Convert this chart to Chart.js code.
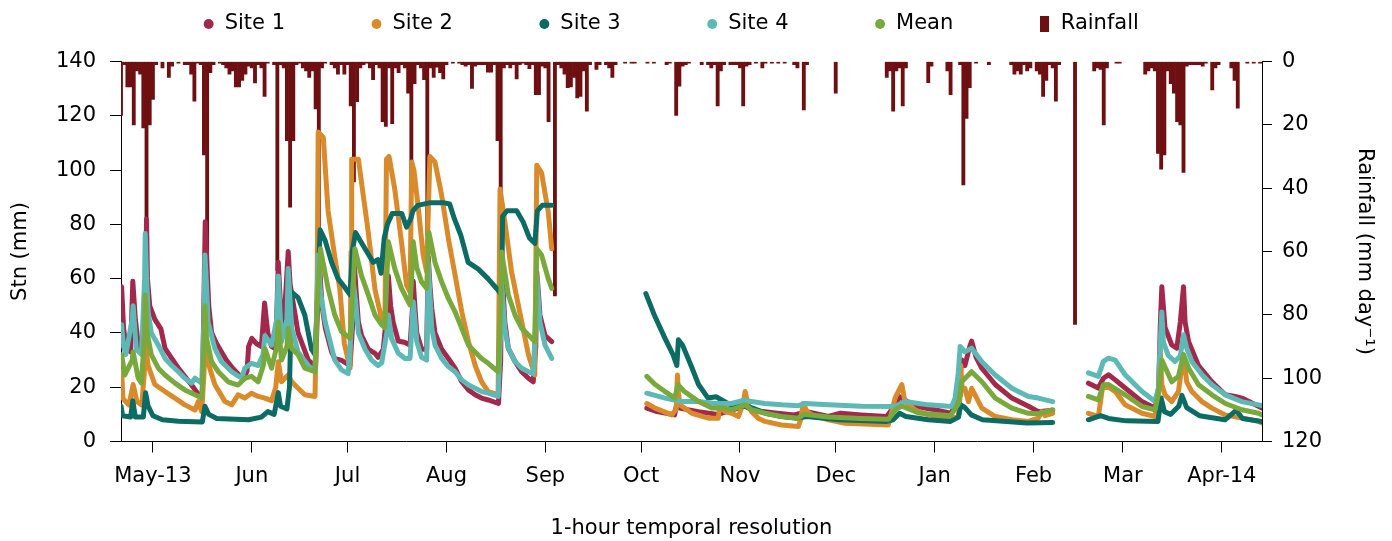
<!DOCTYPE html>
<html>
<head>
<meta charset="utf-8">
<script src="https://cdn.jsdelivr.net/npm/chart.js@4.4.1/dist/chart.umd.min.js"></script>
<style>
  html, body { margin: 0; padding: 0; background: #fff; }
  #wrap { width: 1392px; height: 541px; }
</style>
</head>
<body>
<div id="wrap"><canvas id="stnChart"></canvas></div>
<script>
// x values are days counted from 1 May 2013
const monthTicks = [0, 31, 61, 92, 123, 153, 184, 214, 245, 276, 304, 335];
const monthLabels = ['May-13', 'Jun', 'Jul', 'Aug', 'Sep', 'Oct', 'Nov', 'Dec', 'Jan', 'Feb', 'Mar', 'Apr-14'];

// [day, Stn mm]; a null value marks a gap in the record
const site1 = [
  [-10, 50], [-9.8, 57], [-9.2, 42], [-8.5, 35], [-7, 33], [-6.3, 59], [-5.5, 45], [-4.5, 35], [-3.5, 33],
  [-2.5, 45], [-2.2, 65], [-2, 82], [-1.7, 60], [-1, 50], [0.6, 45], [2.5, 41.5], [3.8, 34.3], [5.9, 30.6],
  [8, 27], [10, 24], [12, 21], [14, 17.8], [15.5, 17], [16.1, 60], [16.4, 81], [16.8, 69], [17.5, 50],
  [18.4, 40], [20, 36], [21.5, 33], [23, 30], [25, 27], [27, 24.5], [28.5, 23], [29.5, 26], [30, 35],
  [31, 38], [32.5, 36], [34, 35], [35, 51], [36, 40], [37.2, 35], [38.5, 34], [39.3, 66], [40, 50],
  [41, 42], [42.4, 70], [43, 58], [45.5, 40], [48.7, 30], [51, 27.5], [51.6, 50], [52, 69], [53, 50],
  [54, 42], [56, 33], [57, 30.5], [59, 30], [61.8, 28], [62.7, 45], [63.1, 66], [63.7, 55], [64.4, 44],
  [65.4, 39], [67.5, 34], [69.6, 32.5], [70.6, 31], [72.2, 34], [73.5, 50], [73.8, 61], [74.5, 50],
  [75.3, 44], [76.9, 37], [79, 36.5], [80.6, 35.5], [81.4, 50], [81.6, 59], [82.2, 48], [82.7, 40],
  [84.2, 34], [85.8, 34], [86.3, 68], [86.8, 58], [87.4, 49], [88.4, 40], [90.5, 34], [92.6, 30.6],
  [94.7, 27], [96.8, 22], [98.9, 19], [101, 17.2], [103, 16], [105.1, 15.3], [108.3, 14], [109, 30],
  [109.3, 66], [109.8, 55], [110.3, 44], [111.4, 34.3], [113.5, 29.4], [115.6, 25.7], [117.7, 23.3],
  [119.2, 22], [120, 35], [120.3, 62.5], [120.8, 55], [121.3, 46.6], [122.9, 39], [125, 36.8], [125.5, null],
  [154.8, 12.3], [158, 11], [163.5, 9.8], [164.2, 14], [165, 12.3], [171, 11], [177, 10], [185.6, 13],
  [188, 11.5], [195, 10.5], [201, 9.8], [205, 11], [211.7, 9.2], [215.5, 10.4], [222, 9.8], [230, 9.2],
  [232.6, 13.5], [234, 16.5], [236, 15], [239, 13], [245, 11.7], [250, 10.4], [252, 14], [253.5, 30],
  [254.5, 28], [256, 35], [256.6, 37], [258, 31], [259.8, 27], [264, 21], [269.2, 16], [274.4, 13],
  [277.5, 11], [282, 11.5], [283, null],
  [293.2, 21.5], [296.3, 19.7], [297.9, 23.3], [299.5, 24.6], [301.6, 22.7], [304.7, 19.7], [310, 14.7],
  [314.1, 12.3], [315.2, 19.7], [315.7, 42], [316.2, 57], [317.2, 42], [319.3, 35.6], [320.9, 34.4],
  [322, 44], [323, 57], [323.5, 44], [324.6, 36.8], [327.7, 28], [331.9, 22], [336.1, 17.2],
  [339.2, 16.6], [341.3, 16], [346.5, 13], [347.6, 12.3]
];

const site2 = [
  [-10, 18], [-9.8, 26], [-9.4, 16], [-8.8, 15], [-7.5, 13.5], [-6.2, 21], [-5, 14.7], [-3.5, 13.5],
  [-2.7, 25], [-2.3, 35.5], [-1.5, 28], [0.6, 21], [3.8, 18.4], [6.9, 16], [10, 13.5], [13.2, 11.6],
  [14.2, 14.7], [15.3, 11], [16, 25], [16.3, 36.8], [17.3, 29], [19.4, 21], [22.6, 14.7], [24.7, 13.5],
  [26.7, 17.2], [28.8, 16], [30.9, 17.8], [33, 16.6], [35.1, 16], [37.2, 15], [38.5, 20], [39.3, 29.4],
  [40.3, 22], [42.4, 24.5], [43.5, 22], [45.5, 19.6], [47.6, 17.2], [50.8, 16.6], [51.5, 60], [51.8, 114],
  [53.4, 112], [54.9, 85], [57, 68], [58.6, 56], [60, 36], [61.8, 27], [62.1, 70], [62.3, 104],
  [64.4, 104], [67.5, 77], [69.6, 56], [71.7, 45], [72.7, 42], [73.2, 104], [74, 105], [75.8, 93],
  [77.9, 73.6], [79.5, 57.6], [80.6, 55], [81.1, 103], [81.8, 100], [83.2, 85.8], [84.7, 68.7],
  [85.8, 62.5], [86.8, 105], [88.4, 103], [90.5, 90.7], [92.6, 74.8], [94.7, 61.3], [96.8, 47.8],
  [98.9, 36.8], [101, 28], [103, 22], [105.1, 18.4], [108.2, 17.2], [108.8, 93], [110.3, 81],
  [112.4, 62.5], [115.6, 44], [117.7, 32], [119.7, 24.5], [120.3, 101.8], [121.8, 99], [123.9, 84.6],
  [125, 71], [125.5, null],
  [154.8, 14], [157.4, 12.3], [162.6, 9.8], [164, 12], [164.4, 24.5], [164.7, 18], [165.2, 13.5],
  [168.9, 10.4], [174.1, 8.6], [177.2, 8.6], [177.7, 13.5], [179.3, 11], [181.4, 10.4], [183.5, 9.2],
  [185, 14], [185.6, 18.4], [186.5, 14], [187.6, 11], [189.7, 8.6], [191.8, 7.4], [197, 6.1], [202.3, 5.5],
  [203, 8], [203.8, 14], [205, 11], [206.5, 9.8], [211.7, 8], [217, 6.7], [230.5, 6.1], [231.6, 11],
  [232.6, 16], [234.7, 21], [235.7, 14.7], [238.9, 11.6], [243, 9.8], [249.3, 8.6], [252.4, 9], [253, 17],
  [253.2, 28], [253.6, 20], [254.5, 19.6], [255.6, 14.7], [256.6, 19.6], [259.8, 12.3], [264, 9.2],
  [269.2, 8], [274.4, 7.4], [277.5, 8.6], [278.6, 11], [279.6, 9.5], [282, 10.4], [283, null],
  [293.2, 10.4], [296.3, 9.2], [297.6, 19.7], [299.5, 20], [301.6, 18.4], [304.7, 13.5], [310, 10.4],
  [314.1, 9.2], [315.2, 19.7], [315.7, 34.4], [316.2, 21], [317.2, 17.2], [319.3, 14.7], [321.4, 18.4],
  [323, 32], [324, 22], [325.6, 18.4], [328.8, 14.7], [331.9, 12.3], [336.1, 9.8], [341.3, 8.6],
  [346.5, 7.4], [347.6, 6.8]
];

const site3 = [
  [-10, 13], [-9.5, 9.5], [-7, 9], [-6.3, 15], [-5.5, 9], [-3, 9], [-2.3, 18], [-1.5, 13], [0, 9.5],
  [3, 8], [8, 7.5], [15.5, 7.2], [16.3, 13], [17.5, 10], [20, 8.5], [30, 8], [34, 9], [36, 11], [38, 10],
  [39.3, 18], [40, 13], [42, 12], [42.8, 20], [43.5, 55], [45.5, 53], [47.6, 46.6], [49.7, 34],
  [50.8, 32], [51.5, 50], [52.4, 78], [54, 74], [56, 66], [58, 60], [60, 57], [61.8, 54], [62.5, 70],
  [63.5, 77], [65, 74], [67, 70], [69, 66], [70.5, 67], [71.5, 62], [72.5, 75], [73.5, 80], [75, 84],
  [78, 84], [79.5, 79], [80.8, 82], [81.5, 85], [83, 87], [87, 88], [91, 88], [93, 87.5], [94.5, 82],
  [96.5, 76], [98.8, 66], [102, 63.5], [105, 60], [108, 56], [109.3, 54], [109.6, 83], [111, 85],
  [114, 85], [116, 81], [118, 75], [119.7, 73], [120.5, 85], [122, 87], [125, 87], [125.5, null],
  [154.5, 54.5], [157, 47], [160.5, 38], [163, 32], [164.2, 28], [164.7, 37.5], [166, 35.5], [169, 27],
  [171, 21], [174, 16], [176.5, 16.5], [181, 13.5], [186, 13], [188, 12.3], [192, 10.4], [197, 9.2],
  [202, 8.6], [205, 9.2], [215, 8], [230, 7.4], [232, 8], [234, 10.4], [236, 9.2], [243, 8], [250, 7.4],
  [252.5, 9], [253.2, 13.5], [254.5, 12.5], [256.5, 9.8], [260, 8], [274, 6.8], [282, 7], [283, null],
  [293.2, 8], [297, 9.5], [299.5, 8.5], [305, 7.6], [315, 7.4], [316, 16], [317, 11], [319, 10],
  [321.5, 13], [322.5, 17], [324, 12.5], [328, 9.5], [336, 8], [339.5, 11.5], [341.5, 8.5], [347.6, 7.4]
];

const site4 = [
  [-10, 40], [-9.8, 43], [-9.3, 35.5], [-8.5, 32], [-6.5, 45], [-6.2, 50], [-5.2, 34], [-3.6, 32],
  [-2.6, 60], [-2.4, 76.6], [-2, 61], [-1.5, 47.8], [-0.5, 40], [1.7, 35.5], [3.8, 30.6], [5.9, 28],
  [8, 25.7], [10, 23.3], [12.1, 21.5], [13.2, 23.3], [15.3, 21.5], [16, 45], [16.3, 68.7], [16.7, 60],
  [17.3, 44], [19.4, 34.3], [21.5, 29.4], [24.7, 25.7], [27.8, 23.3], [28.8, 27], [30.9, 28.8], [33, 28],
  [34.5, 32], [35.1, 39], [37.2, 35.5], [38.8, 45], [39.3, 61], [40.3, 36.8], [42, 45], [42.4, 63.7],
  [43.5, 41.7], [45.5, 33], [48.7, 28], [50.8, 25.7], [51.4, 50], [51.8, 68.7], [52.5, 55], [54, 44],
  [57, 30], [59.1, 26.4], [61.2, 25], [62.4, 45], [62.8, 58.8], [63.5, 52], [64.4, 40], [66.5, 34],
  [68.5, 30], [70.6, 28], [71.7, 29], [73.3, 40], [73.8, 46.6], [74.8, 38], [76.9, 32.5], [79, 30.6],
  [80.6, 30.6], [81.3, 45], [81.6, 51.5], [82.7, 36.8], [84.2, 31], [85.8, 30], [86.1, 50], [86.3, 66],
  [87.4, 41.7], [88.4, 35.5], [90.5, 30.6], [92.6, 27.6], [94.7, 25.7], [96.8, 22.7], [98.9, 20.8],
  [101, 19.6], [103, 18.4], [105.1, 17.8], [108.2, 16.6], [109, 40], [109.3, 58.8], [109.8, 50],
  [110.3, 41.7], [111.4, 34.3], [113.5, 29.4], [115.6, 27], [117.7, 25.7], [119.2, 25], [120, 45],
  [120.3, 61], [121.3, 44], [122.9, 35.5], [125, 30.6], [125.5, null],
  [154.8, 17.8], [160.5, 16], [165.7, 14.7], [171, 14.7], [176.2, 14], [181.4, 14], [185.6, 15.3],
  [187.6, 14.7], [191.8, 14], [197, 13.5], [202.3, 13.2], [204.4, 14], [211.7, 13.5], [222, 13],
  [232.6, 12.9], [235.7, 14.7], [243, 13.5], [250.4, 12.9], [251.4, 16], [252.4, 25], [253, 35],
  [254.5, 33], [256.6, 34.4], [259.8, 29.4], [264, 24.5], [269.2, 19.6], [274.4, 16.6], [277.5, 16],
  [282, 14.7], [283, null],
  [293.2, 25.3], [296.3, 24], [297.9, 29.5], [299.5, 30.7], [301.6, 30], [304.7, 24.6], [310, 18.4],
  [314.1, 14.7], [315.2, 20], [315.7, 36.6], [316.2, 47.7], [316.7, 36.6], [318.2, 31.7], [320.3, 29.5],
  [322, 31.5], [323, 39.3], [324, 34.4], [325.6, 29.5], [328.8, 24.6], [331.9, 20.9], [336.1, 17.2],
  [341.3, 14.7], [346.5, 13.5], [347.6, 13.2]
];

const meanStn = [
  [-10, 30], [-9.8, 32], [-8.8, 24.5], [-6.5, 30], [-6.2, 33], [-4.6, 23.3], [-3.6, 21.5], [-2.6, 40],
  [-2.4, 54], [-1.8, 40], [-0.5, 32], [1.7, 27], [3.8, 24.5], [6.9, 21.5], [10, 19], [13.2, 17.2],
  [15.3, 16], [16, 35], [16.3, 50], [16.8, 38], [18.4, 29.4], [20.5, 25.7], [23.6, 22], [26.7, 20.8],
  [28.8, 23.3], [30.9, 24], [33, 22], [34.6, 28], [35.1, 34.3], [37.2, 27], [38.8, 35], [39.3, 44],
  [40.3, 30], [42, 35], [42.4, 41.7], [43.5, 34.3], [45.5, 32], [47.6, 27], [50.8, 25.7], [51.5, 50],
  [52.5, 71], [54.9, 56.4], [57, 46.6], [59.1, 40.5], [61.8, 38], [62.7, 55], [63.3, 71], [65.4, 61],
  [67.5, 54], [69.6, 46.6], [71.7, 43], [72.7, 42], [73.3, 60], [73.8, 73.6], [75.8, 63.7], [77.9, 56.4],
  [79.5, 52.7], [80.6, 50.3], [81.3, 65], [81.6, 73.6], [82.7, 64], [84.2, 58.8], [85.8, 56.4],
  [86.5, 77], [88.4, 66], [90.5, 58.8], [92.6, 52.7], [94.7, 47.8], [96.8, 41.7], [98.9, 35.5],
  [101, 33], [103, 30.6], [105.1, 28.8], [108.2, 25.7], [109, 50], [109.3, 69.8], [111.4, 54],
  [113.5, 46.6], [115.6, 41.7], [117.7, 39.2], [119.7, 36.8], [120.3, 71], [121.8, 68.7], [123.9, 60],
  [125, 56.4], [125.5, null],
  [154.8, 24], [157.4, 21], [160.5, 18.4], [163.6, 16], [164.5, 21], [166.5, 18.5], [171, 14.7],
  [175.2, 12.3], [179.3, 12.3], [181.4, 11.7], [185.6, 13.5], [187.6, 11.7], [191.8, 10.4], [197, 9.2],
  [202.3, 8.6], [204, 10], [211.7, 9], [222, 8.5], [230.5, 8.2], [233, 12], [234.7, 13], [240, 10.5],
  [250, 9.5], [252.5, 14], [253.5, 22], [256.6, 25.7], [259.8, 22], [264, 16], [269.2, 12.3],
  [274.4, 10.4], [277.5, 10.2], [282, 11.7], [283, null],
  [293.2, 16.6], [296.3, 15.3], [297.9, 20.9], [299.5, 21], [304.7, 17.2], [310, 12.9], [314.1, 11.7],
  [315.2, 18], [316.2, 30], [319.3, 22], [321.4, 24], [323, 32], [324.6, 27], [327.7, 20.9],
  [331.9, 17.2], [336.1, 14], [341.3, 11.7], [346.5, 10.4], [347.6, 9.8]
];

// [day, mm/day]
const rainfall = [
  [-11, 1.5], [-10, 17], [-9, 1], [-8, 8], [-7, 8], [-6, 20], [-5, 3], [-4, 4], [-3, 21], [-2, 64], [-1, 20],
  [0, 12], [1, 1], [3, 2], [5, 5], [6, 1.5], [8, 0.5], [10, 1], [11, 1], [12, 4], [13, 12.5], [14, 0.5],
  [15, 1], [16, 29.5], [17, 66], [18, 3.5], [19, 1], [21, 0.5], [22, 1], [23, 2], [24, 4], [25, 3],
  [26, 8], [27, 8], [28, 6], [29, 4], [30, 1.5], [31, 2], [32, 6.8], [33, 1], [34, 2], [35, 11],
  [36, 0.5], [38, 1], [39, 66], [40, 1], [41, 2], [42, 25], [43, 46], [44, 25], [45, 1], [46, 0.5],
  [47, 2], [48, 3], [49, 5], [50, 3], [51, 15], [52, 58], [53, 2], [54, 0.5], [56, 1], [57, 2], [58, 4],
  [59, 1], [60, 4], [61, 1], [62, 14], [63, 38], [64, 12.7], [65, 2], [66, 1], [67, 0.5], [68, 2],
  [69, 5.7], [70, 1], [71, 2], [72, 19], [73, 20.5], [74, 2], [75, 19.6], [76, 2], [77, 3.5], [78, 1],
  [79, 2], [80, 10], [81, 38], [82, 7], [83, 1], [84, 2], [85, 5.7], [86, 55], [87, 2], [88, 5],
  [89, 1.8], [90, 3.5], [91, 5.5], [92, 1], [94, 0.5], [96, 0.5], [97, 1], [98, 1.5], [99, 1],
  [100, 8.5], [101, 1.5], [102, 1], [103, 1], [104, 1], [105, 3.4], [106, 3.4], [107, 1], [108, 25],
  [109, 75], [110, 2], [111, 1], [112, 2], [113, 1], [114, 5.5], [115, 1], [116, 0.5], [117, 1],
  [118, 2.3], [119, 1], [120, 10.5], [121, 10.5], [122, 1.5], [123, 2], [124, 19], [126, 74],
  [127, 1], [128, 2], [129, 4], [130, 8.3], [131, 8], [132, 5], [133, 11.5], [134, 11], [135, 3],
  [136, 15.7], [137, 1], [139, 2.5], [140, 1], [142, 1], [143, 2], [144, 5], [145, 1], [148, 0.5],
  [150, 0.5], [151, 0.5], [155, 0.5], [157, 0.5], [161, 1], [162, 0.5], [164, 17], [165, 7.8],
  [166, 1.5], [167, 1], [168, 0.5], [172, 1], [174, 1], [175, 2], [176, 1], [177, 14], [178, 3],
  [179, 1], [181, 1], [182, 1], [183, 1], [184, 2], [185, 14], [186, 1.5], [187, 1], [189, 0.5],
  [191, 2], [192, 0.5], [194, 0.5], [196, 0.5], [198, 0.5], [201, 1], [202, 2], [204, 15.3], [205, 1],
  [214, 10], [230, 5], [231, 3], [232, 15.7], [233, 3], [234, 2], [235, 14], [236, 2], [243, 6.7],
  [244, 1.5], [249, 3], [250, 10.5], [253, 1], [254, 39], [255, 18], [256, 8.3], [258, 0.5], [262, 1],
  [269, 1], [270, 4], [271, 3], [272, 4], [273, 1], [274, 3], [275, 2], [277, 3], [278, 4], [279, 11],
  [280, 6], [281, 1], [282, 2], [283, 12.5], [284, 1], [289, 83], [295, 3], [296, 2], [297, 2.5],
  [298, 20], [299, 2], [302, 0.5], [303, 0.5], [311, 4], [312, 3], [313, 2], [314, 3], [315, 29],
  [316, 34], [317, 29.5], [318, 3], [319, 7], [320, 10], [321, 19], [322, 20], [323, 35], [324, 1.5],
  [325, 1], [326, 1], [327, 1], [328, 1], [329, 1.5], [330, 0.5], [332, 9], [333, 2], [334, 1],
  [338, 2], [339, 6], [340, 14.7], [343, 0.5], [345, 0.5], [347, 0.5]
];

const colors = {
  site1: '#a2284c',
  site2: '#d98a2b',
  site3: '#0c6b63',
  site4: '#5cb9b6',
  mean: '#79a93d',
  rain: '#6e1012'
};

Chart.defaults.font.family = "'DejaVu Sans', 'Noto Sans', sans-serif";
Chart.defaults.font.size = 21;
Chart.defaults.color = '#000';

function toXY(rows) {
  return rows.map(([d, v]) => ({ x: d, y: v }));
}

function stnSet(label, rows, color, order) {
  return {
    type: 'line',
    label: label,
    data: toXY(rows),
    borderColor: color,
    backgroundColor: color,
    borderWidth: 5,
    borderJoinStyle: 'round',
    borderCapStyle: 'round',
    pointRadius: 0,
    pointHoverRadius: 0,
    pointStyle: 'circle',
    spanGaps: false,
    tension: 0,
    yAxisID: 'y',
    order: order
  };
}

// tall narrow box for the rainfall legend entry
const rainIcon = document.createElement('canvas');
rainIcon.width = 9;
rainIcon.height = 16;
const ictx = rainIcon.getContext('2d');
ictx.fillStyle = colors.rain;
ictx.fillRect(0, 0, 9, 16);

// legend sits in a fixed strip above the plot, items spread wide apart
const legendStrip = {
  id: 'legendStrip',
  beforeInit(chart) {
    const fit = chart.legend.fit;
    chart.legend.fit = function () {
      fit.call(this);
      this.height = 61.5;
    };
  },
  beforeDraw(chart) {
    const lg = chart.legend;
    const pad = lg.options.labels.padding;
    lg.top = 24 - 10.5 - pad;
    lg.left = -25;
    lg.right = chart.width - 25;
  }
};

const axisLine = { display: true, color: '#000', width: 1 };

new Chart(document.getElementById('stnChart'), {
  type: 'line',
  data: {
    datasets: [
      stnSet('Site 1', site1, colors.site1, 5),
      stnSet('Site 2', site2, colors.site2, 4),
      stnSet('Site 3', site3, colors.site3, 3),
      stnSet('Site 4', site4, colors.site4, 2),
      stnSet('Mean', meanStn, colors.mean, 1),
      {
        type: 'bar',
        label: 'Rainfall',
        data: toXY(rainfall),
        backgroundColor: colors.rain,
        borderWidth: 0,
        barPercentage: 1,
        categoryPercentage: 1,
        pointStyle: rainIcon,
        yAxisID: 'y2',
        order: 10
      }
    ]
  },
  options: {
    responsive: true,
    maintainAspectRatio: false,
    animation: false,
    events: [],
    layout: { padding: 0 },
    plugins: {
      tooltip: { enabled: false },
      legend: {
        position: 'top',
        labels: {
          usePointStyle: true,
          boxWidth: 11,
          boxHeight: 7,
          padding: 86,
          color: '#000',
          font: { size: 21 },
          sort: (a, b) => a.datasetIndex - b.datasetIndex,
          generateLabels: (chart) =>
            Chart.defaults.plugins.legend.labels.generateLabels(chart).map(item => Object.assign(item, { lineWidth: 0 }))
        }
      }
    },
    scales: {
      x: {
        type: 'linear',
        min: -10,
        max: 347.6,
        offset: false,
        afterBuildTicks: (scale) => { scale.ticks = monthTicks.map(v => ({ value: v })); },
        afterFit: (scale) => { scale.height = 99.5; },
        ticks: {
          autoSkip: false,
          maxRotation: 0,
          padding: 11,
          color: '#000',
          callback: (value) => monthLabels[monthTicks.indexOf(value)]
        },
        grid: { offset: false, drawOnChartArea: false, drawTicks: true, tickLength: 11, color: '#000' },
        border: axisLine,
        title: { display: true, text: '1-hour temporal resolution', color: '#000', padding: { top: 0, bottom: 0 } }
      },
      y: {
        position: 'left',
        min: 0,
        max: 140,
        afterFit: (scale) => { scale.width = 121; },
        ticks: { stepSize: 20, padding: 14, color: '#000' },
        grid: { drawOnChartArea: false, drawTicks: true, tickLength: 11, color: '#000' },
        border: axisLine,
        title: { display: true, text: 'Stn (mm)', color: '#000', padding: { top: 8, bottom: 0 } }
      },
      y2: {
        position: 'right',
        reverse: true,
        min: 0,
        max: 120,
        afterFit: (scale) => { scale.width = 130; },
        ticks: { stepSize: 20, padding: 10, color: '#000' },
        grid: { drawOnChartArea: false, drawTicks: true, tickLength: 10, color: '#000' },
        border: axisLine,
        title: { display: true, text: 'Rainfall (mm day⁻¹)', color: '#000', padding: { top: 15, bottom: 0 } }
      }
    }
  },
  plugins: [legendStrip]
});
</script>
</body>
</html>
